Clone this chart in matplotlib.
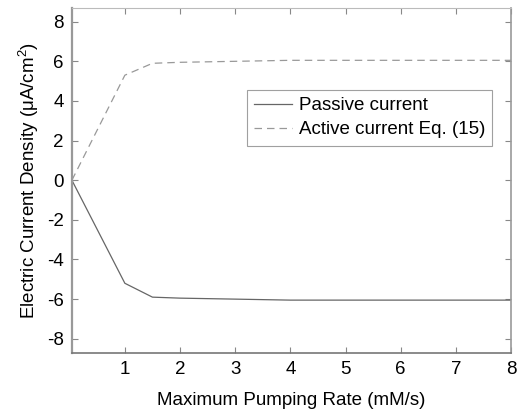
import numpy as np
import matplotlib
matplotlib.use('Agg')
import matplotlib.pyplot as plt

plt.rcParams['font.family'] = ['Liberation Sans', 'DejaVu Sans']
plt.rcParams['mathtext.fontset'] = 'custom'
plt.rcParams['mathtext.rm'] = 'Liberation Sans'
plt.rcParams['mathtext.it'] = 'Liberation Sans:italic'
plt.rcParams['axes.unicode_minus'] = False

# Data
pump_rate = [0.04, 1.0, 1.5, 2.0, 3.0, 4.0, 5.0, 6.0, 7.0, 8.0]
passive = [0.0, -5.2, -5.9, -5.95, -6.0, -6.05, -6.05, -6.05, -6.05, -6.05]
active = [0.0, 5.3, 5.9, 5.95, 6.0, 6.05, 6.05, 6.05, 6.05, 6.05]

xticks = [1, 2, 3, 4, 5, 6, 7, 8]
yticks = [-8, -6, -4, -2, 0, 2, 4, 6, 8]

fig = plt.figure(figsize=(5.21, 4.11), dpi=100)
ax = fig.add_axes([0.138, 0.142, 0.843, 0.839])

ax.plot(pump_rate, passive, '-', color='#666666', lw=0.9, label='Passive current')
ax.plot(pump_rate, active, '--', color='#999999', lw=0.9, dashes=(6, 4),
        label='Active current Eq. (15)')

ax.set_xlim(0.04, 8)
ax.set_ylim(-8.7, 8.7)
ax.set_xticks(xticks)
ax.set_yticks(yticks)
ax.tick_params(direction='in', length=4, width=0.8, color='#888888',
               labelsize=13.5, top=True, right=True, pad=6)
ax.spines['left'].set_color('#999999')
ax.spines['left'].set_linewidth(1.6)
ax.spines['bottom'].set_color('#777777')
ax.spines['bottom'].set_linewidth(1.2)
ax.spines['right'].set_color('#999999')
ax.spines['right'].set_linewidth(1.2)
ax.spines['top'].set_color('#bbbbbb')
ax.spines['top'].set_linewidth(0.8)

ax.set_xlabel('Maximum Pumping Rate (mM/s)', fontsize=13.5, labelpad=10)
ax.set_ylabel('Electric Current Density (μA/cm$^2$)', fontsize=13.5, labelpad=4)

leg = ax.legend(loc='upper left', bbox_to_anchor=(0.399, 0.762), fontsize=13.5,
                frameon=True, fancybox=False, handlelength=2.0,
                handletextpad=0.37, borderpad=0.38, labelspacing=0.38,
                borderaxespad=0)
leg.get_frame().set_edgecolor('#888888')
leg.get_frame().set_linewidth(0.8)

fig.savefig('out.png', dpi=100)
